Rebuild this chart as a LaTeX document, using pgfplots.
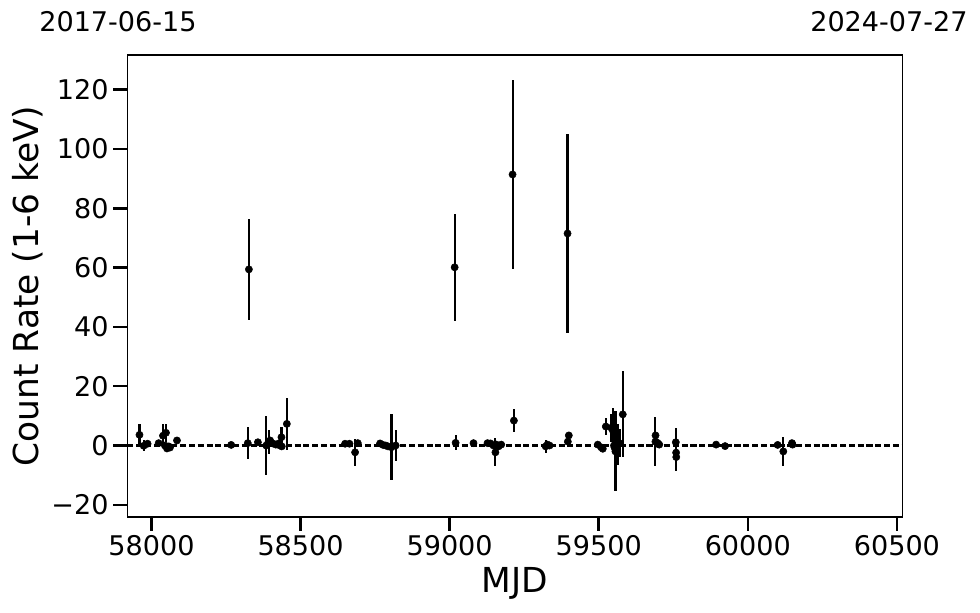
\documentclass[border=0pt]{standalone}
\usepackage{fontspec}
\setmainfont{DejaVu Sans}
\usepackage{pgfplots}
\usepackage{pgfplotstable}
\pgfplotsset{compat=1.18}

% MJD, count rate (1-6 keV), 1-sigma error
\pgfplotstableread{
mjd     rate   err
57959.8  3.6   3.6
57974.0 -0.1   1.8
57987.0  0.6   0.4
58024.0  0.8   0.4
58038.6  3.3   4.0
58045.0  0.0   0.4
58048.6  4.3   3.0
58052.0 -1.0   0.4
58058.0 -0.3   0.4
58062.0 -0.7   0.4
58085.5  1.7   0.4
58267.4  0.2   0.4
58323.0  0.8   5.5
58326.7 59.4  17.0
58356.9  1.1   0.4
58384.7  0.0   9.9
58392.7  1.2   4.0
58398.0  1.7   0.4
58407.0  0.7   0.4
58417.0  0.3   0.4
58427.0  0.7   0.4
58431.0  0.0   0.4
58435.9  2.8   3.5
58437.0 -0.3   0.4
58454.0  7.3   8.8
58649.3  0.6   0.4
58664.0  0.6   0.4
58682.9 -2.3   4.5
58692.0  0.8   0.4
58766.6  0.7   0.4
58776.6  0.2   0.4
58785.7  0.0   0.4
58793.4 -0.3   0.4
58804.8 -0.6  11.2
58819.0  0.0   5.1
59016.8 60.1  18.0
59020.0  0.9   2.5
59080.0  0.8   0.4
59127.0  0.8   0.4
59137.0  0.7   0.4
59147.0  0.0   0.4
59153.5 -2.3   4.7
59157.0  0.3   0.4
59164.0 -0.3   0.4
59173.0  0.3   0.4
59211.0 91.4  31.9
59215.5  8.4   3.9
59322.0 -0.3   2.2
59328.0  0.3   0.4
59335.0  0.0   0.4
59395.4 71.5  33.7
59396.4  1.3   0.4
59399.7  3.4   0.4
59496.8  0.3   0.4
59508.0 -0.6   0.4
59513.6 -1.1   0.4
59523.7  6.4   2.8
59541.8  6.0   4.7
59547.2  5.1   7.6
59551.0  0.0   0.4
59553.0 -0.7   0.4
59556.0 -2.0  13.5
59563.8  0.3   7.0
59569.6  0.8   4.8
59580.6 10.5  14.5
59690.0  1.3   8.2
59690.5  3.4   0.4
59697.0  0.9   0.4
59700.0  0.5   0.4
59703.0  0.3   0.4
59758.5  1.1   4.8
59759.5 -2.4   5.5
59760.0 -3.9   4.7
59893.6  0.3   0.4
59923.7 -0.2   0.4
60100.0  0.2   0.4
60119.0 -2.0   4.9
60148.0  0.8   0.4
60150.0  0.3   0.4
}\lcdata

\begin{document}
\begin{tikzpicture}
\begin{axis}[
    scale only axis,
    width=581.25pt,
    height=346.5pt,
    xmin=57919, xmax=60518,
    ymin=-24.1, ymax=131.7,
    scaled x ticks=false,
    xtick={58000,58500,59000,59500,60000,60500},
    xticklabels={58000,58500,59000,59500,60000,60500},
    ytick={-20,0,20,40,60,80,100,120},
    yticklabels={−20,0,20,40,60,80,100,120},
    xtick pos=bottom, ytick pos=left,
    tick align=outside,
    major tick length=10.5pt,
    major tick style={black, line width=1.9pt},
    axis line style={black, line width=1pt},
    ticklabel style={font=\fontsize{20.3}{24}\selectfont},
    xlabel={MJD},
    ylabel={Count Rate (1-6 keV)},
    label style={font=\fontsize{25.8}{30}\selectfont},
    xlabel style={at={(rel axis cs:0.5,-0.1429)}, anchor=center},
    ylabel style={at={(rel axis cs:-0.1282,0.5)}, anchor=center},
]
\addplot[black, line width=1.6pt, dash pattern=on 4.6pt off 2pt]
    coordinates {(57919,0) (60518,0)};
\addplot[only marks, mark=*, mark size=2.7pt, black,
    error bars/.cd, y dir=both, y explicit,
    error bar style={line width=1.6pt}, error mark=none]
    table[x=mjd, y=rate, y error=err] {\lcdata};
\end{axis}
\node[anchor=base, font=\fontsize{20.3}{24}\selectfont]
    at ([shift={(-7pt,17.25pt)}]current axis.north west) {2017-06-15};
\node[anchor=base, font=\fontsize{20.3}{24}\selectfont]
    at ([shift={(-10pt,17.25pt)}]current axis.north east) {2024-07-27};
\pgfresetboundingbox
\path ([shift={(-95.5pt,-72pt)}]current axis.south west)
    rectangle ([shift={(58.3pt,41.25pt)}]current axis.north east);
\end{tikzpicture}
\end{document}
